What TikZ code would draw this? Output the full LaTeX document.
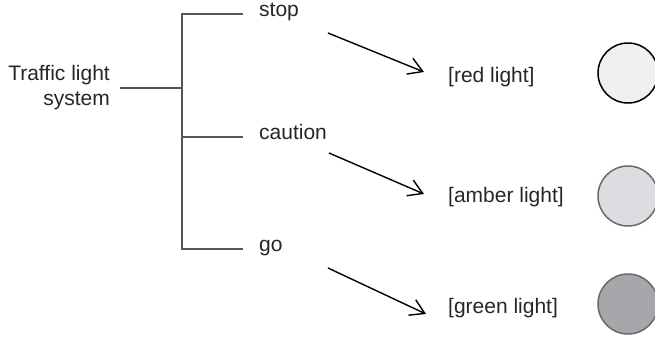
\documentclass[tikz,border=0pt]{standalone}
\usepackage{fontspec}
\setmainfont{Liberation Sans}
\usepackage{tikz}
\usetikzlibrary{arrows.meta}
\usetikzlibrary{positioning}
\usetikzlibrary{calc}
\definecolor{treegray}{HTML}{555555}
\definecolor{redfill}{HTML}{F0F0F1}
\definecolor{amberfill}{HTML}{DCDDE0}
\definecolor{greenfill}{HTML}{A6A7AA}
\definecolor{lampgray}{HTML}{6A6A6A}
\tikzstyle{txt} = [inner sep = 0pt, text = black!85, font = \fontsize{21}{25}\selectfont]
\tikzstyle{branch} = [draw = treegray, line width = 1.3pt]
\tikzstyle{arrow} = [line width = 1.4pt, -{Straight Barb[length = 14pt, width = 17pt]}]
\tikzstyle{lamp} = [circle, minimum size = 60pt, inner sep = 0pt, line width = 1.5pt]

\begin{document}
\begin{tikzpicture}[x = 1pt, y = -1pt]
	\useasboundingbox (0,0) rectangle (655,338);
	
	% System node
	\node[txt, align = right, anchor = east] (sys) at (110,88) {Traffic light\\system};
	\coordinate[right = 10pt of sys.east] (rsys);
	\coordinate (jmid) at (182,88);
	
	% States
	\node[txt, anchor = mid west] (stop) at (259,14) {stop};
	\node[txt, anchor = mid west] (caution) at (259,137) {caution};
	\node[txt, anchor = mid west] (go) at (259,249) {go};
	\coordinate[left = 16pt of stop.mid west] (lstop);
	\coordinate[left = 16pt of caution.mid west] (lcaution);
	\coordinate[left = 16pt of go.mid west] (lgo);
	\coordinate (jstop) at (jmid |- stop.mid west);
	\coordinate (jcaution) at (jmid |- caution.mid west);
	\coordinate (jgo) at (jmid |- go.mid west);
	
	% Tree lines
	\draw[branch] (rsys) -- (jmid);
	\draw[branch] (lstop) -- (jstop) -- (jgo) -- (lgo);
	\draw[branch] (jcaution) -- (lcaution);
	
	% Lights
	\node[txt, anchor = mid west] (red) at (448,80) {[red light]};
	\node[txt, anchor = mid west] (amber) at (448,200) {[amber light]};
	\node[txt, anchor = mid west] (green) at (448,311) {[green light]};
	\node[lamp, draw = black, fill = redfill] (redlamp) at (628,73) {};
	\node[lamp, draw = lampgray, fill = amberfill] (amberlamp) at (628,196) {};
	\node[lamp, draw = lampgray, fill = greenfill] (greenlamp) at (628,304) {};
	
	% Arrow ends
	\coordinate (sstop) at (328,33);
	\coordinate (estop) at (424,72);
	\coordinate (scaution) at (329,153);
	\coordinate (ecaution) at (424,194);
	\coordinate (sgo) at (328,268);
	\coordinate (ego) at (426,314);
	
	% Connect states to lights
	\draw[arrow] (sstop) -- (estop);
	\draw[arrow] (scaution) -- (ecaution);
	\draw[arrow] (sgo) -- (ego);
	
\end{tikzpicture}
\end{document}
